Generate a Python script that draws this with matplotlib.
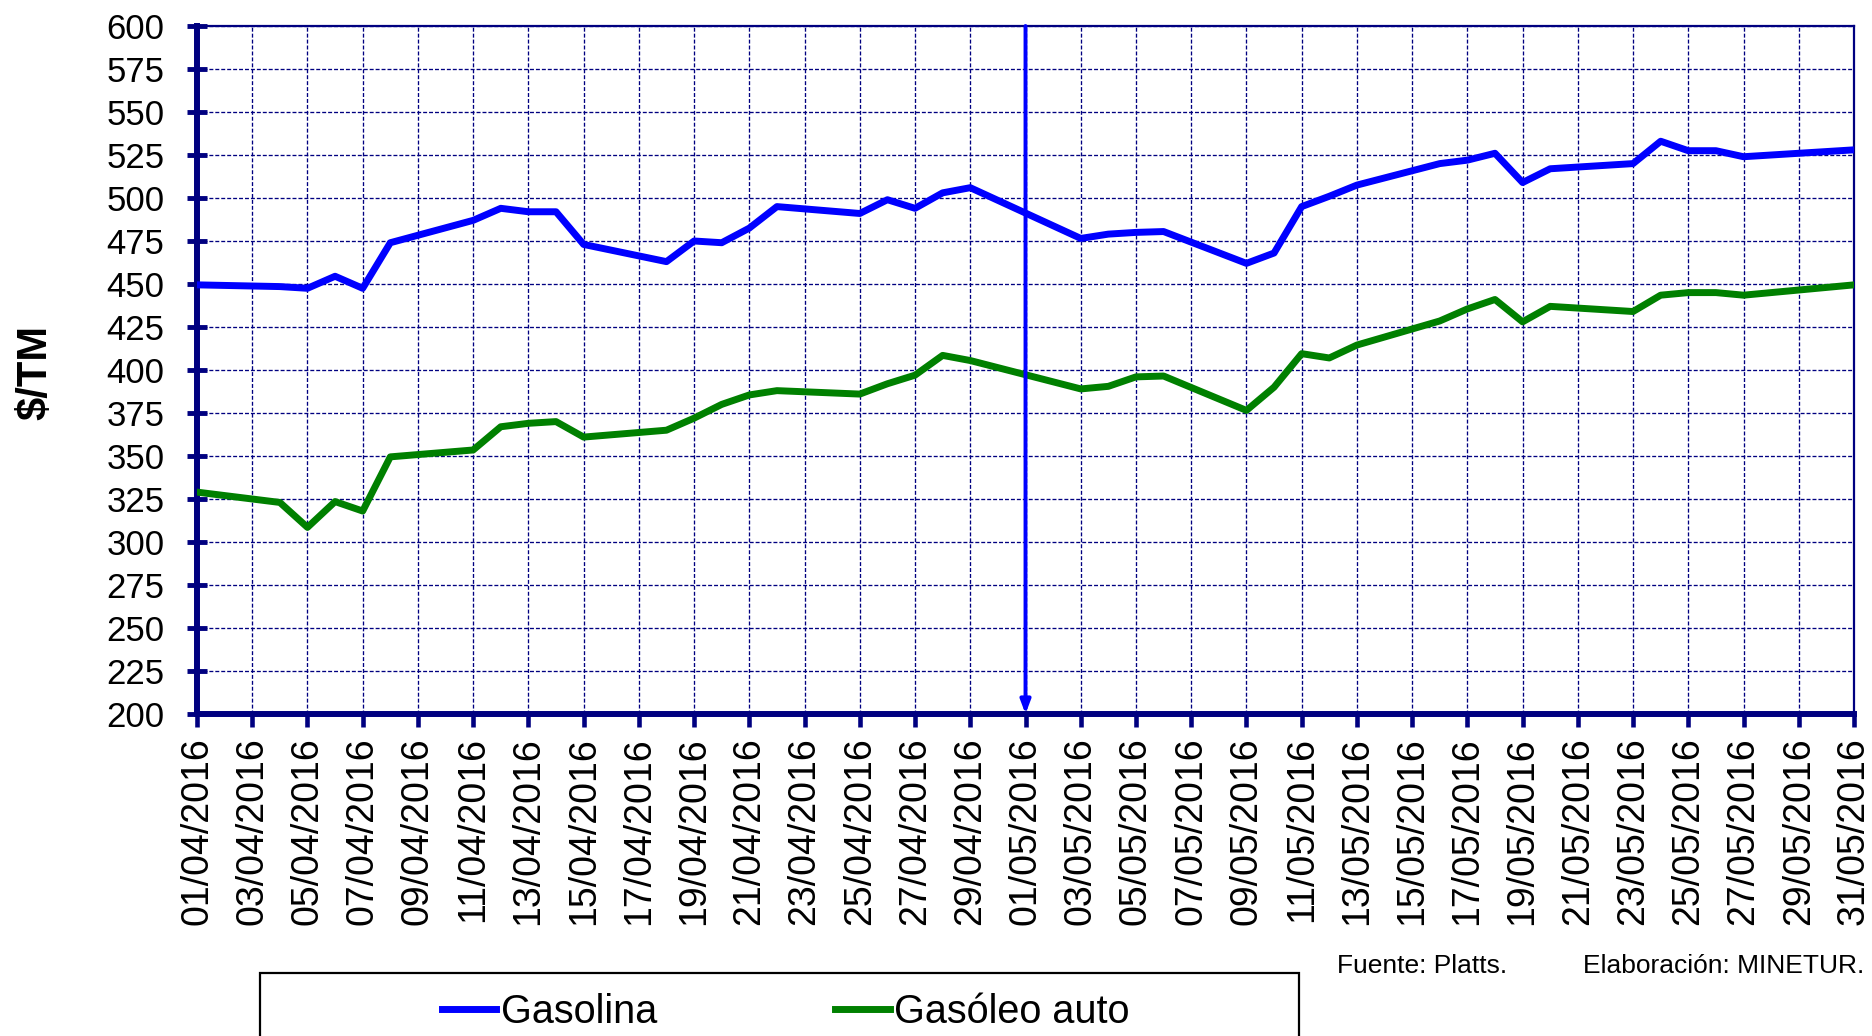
import matplotlib
matplotlib.use("Agg")
import matplotlib.pyplot as plt
from matplotlib.patches import Rectangle
import pandas as pd

plt.rcParams['font.family'] = ['Liberation Sans', 'DejaVu Sans']

# ---------------- data ----------------
fechas = [
    "01/04/2016", "04/04/2016", "05/04/2016", "06/04/2016", "07/04/2016", "08/04/2016",
    "11/04/2016", "12/04/2016", "13/04/2016", "14/04/2016", "15/04/2016",
    "18/04/2016", "19/04/2016", "20/04/2016", "21/04/2016", "22/04/2016",
    "25/04/2016", "26/04/2016", "27/04/2016", "28/04/2016", "29/04/2016",
    "03/05/2016", "04/05/2016", "05/05/2016", "06/05/2016",
    "09/05/2016", "10/05/2016", "11/05/2016", "12/05/2016", "13/05/2016",
    "16/05/2016", "17/05/2016", "18/05/2016", "19/05/2016", "20/05/2016",
    "23/05/2016", "24/05/2016", "25/05/2016", "26/05/2016", "27/05/2016",
    "31/05/2016",
]
gasolina = [
    449.5, 448.5, 447.5, 454.5, 447.5, 474,
    487, 494, 492, 492, 473,
    463, 475, 474, 482.5, 495,
    491, 499, 494, 503, 506,
    476.5, 479, 480, 480.5,
    462, 468, 495, 501, 507.5,
    520, 522, 526, 509, 517,
    520, 533, 527.5, 527.5, 524,
    528,
]
gasoleo_auto = [
    329, 323, 308.5, 323.5, 318, 349.5,
    353.5, 367, 369, 370, 361,
    365, 372, 380, 385.5, 388,
    386, 392, 397, 408.5, 405.5,
    389, 390.5, 396, 396.5,
    376.5, 390, 409.5, 407, 414.5,
    428.5, 435.5, 441, 428, 437,
    434, 443.5, 445, 445, 443.5,
    449.5,
]
series_labels = ["Gasolina", "Gasóleo auto"]
fecha_inicio = "01/04/2016"
fecha_fin = "31/05/2016"
fecha_marca = "01/05/2016"
y_ticks = list(range(200, 601, 25))
x_tick_dates = pd.date_range(pd.to_datetime(fecha_inicio, format="%d/%m/%Y"),
                             pd.to_datetime(fecha_fin, format="%d/%m/%Y"), freq="2D")
x_tick_labels = [d.strftime("%d/%m/%Y") for d in x_tick_dates]

# ---------------- figure ----------------
W, H = 1872, 1036
fig = plt.figure(figsize=(W / 100, H / 100), dpi=100)
ax = fig.add_axes([197 / W, 1 - 714 / H, (1854 - 197) / W, (714 - 26) / H])

NAVY = '#000080'
BLUE = '#0000FF'
GREEN = '#008000'

x = pd.to_datetime(fechas, format="%d/%m/%Y")
ax.plot(x, gasolina, color=BLUE, lw=5, label=series_labels[0], zorder=3)
ax.plot(x, gasoleo_auto, color=GREEN, lw=5, label=series_labels[1], zorder=3)

x0 = pd.to_datetime(fecha_inicio, format="%d/%m/%Y")
x1 = pd.to_datetime(fecha_fin, format="%d/%m/%Y")
ax.set_xlim(x0, x1)
ax.set_ylim(200, 600)

ax.set_yticks(y_ticks)
ax.set_yticklabels([str(v) for v in y_ticks])
ax.set_xticks(x_tick_dates)
ax.set_xticklabels(x_tick_labels, rotation=90, ha='center', va='top')

ax.grid(True, which='major', color=NAVY, linestyle=(0, (3, 1.5)), linewidth=0.95, zorder=1)
ax.set_axisbelow(True)

for side in ['left', 'bottom']:
    ax.spines[side].set_color(NAVY)
    ax.spines[side].set_linewidth(4.3)
for side in ['top', 'right']:
    ax.spines[side].set_color(NAVY)
    ax.spines[side].set_linewidth(1.6)

ax.tick_params(axis='y', direction='inout', length=15, width=3.5, color=NAVY,
               labelsize=25, pad=16, labelcolor='black')
ax.tick_params(axis='x', direction='out', length=9.5, width=3.3, color=NAVY,
               labelsize=27, pad=7, labelcolor='black')

# vertical marker arrow at 01/05
xm = pd.to_datetime(fecha_marca, format="%d/%m/%Y")
ax.annotate('', xy=(xm, 200), xytext=(xm, 600),
            arrowprops=dict(arrowstyle='-|>,head_length=0.8,head_width=0.3',
                            color=BLUE, lw=2.8, shrinkA=0, shrinkB=0),
            zorder=5, annotation_clip=False)

# y label
fig.text(35 / W, 1 - 372 / H, "$/TM", rotation=90, fontsize=30, fontweight='bold',
         ha='center', va='center', parse_math=False)

# source texts
fig.text(1337 / W, 1 - 966 / H, "Fuente: Platts.", fontsize=19, ha='left', va='center')
fig.text(1583 / W, 1 - 966 / H, "Elaboración: MINETUR.", fontsize=19, ha='left', va='center')

# legend box (extends beyond bottom edge)
box = Rectangle((260 / W, -0.05), (1299 - 260) / W, (1036 - 973) / H + 0.05,
                transform=fig.transFigure, fill=False, edgecolor='black', lw=1.6)
fig.patches.append(box)

handles, labels = ax.get_legend_handles_labels()
fig.legend(handles, labels, loc='center left', bbox_to_anchor=(442 / W, 1 - 1012 / H),
           frameon=False, ncol=2, fontsize=28.5, handlelength=1.37, handletextpad=0.12,
           columnspacing=4.5, borderpad=0, borderaxespad=0)

fig.savefig("out.png", dpi=100, facecolor='white')
